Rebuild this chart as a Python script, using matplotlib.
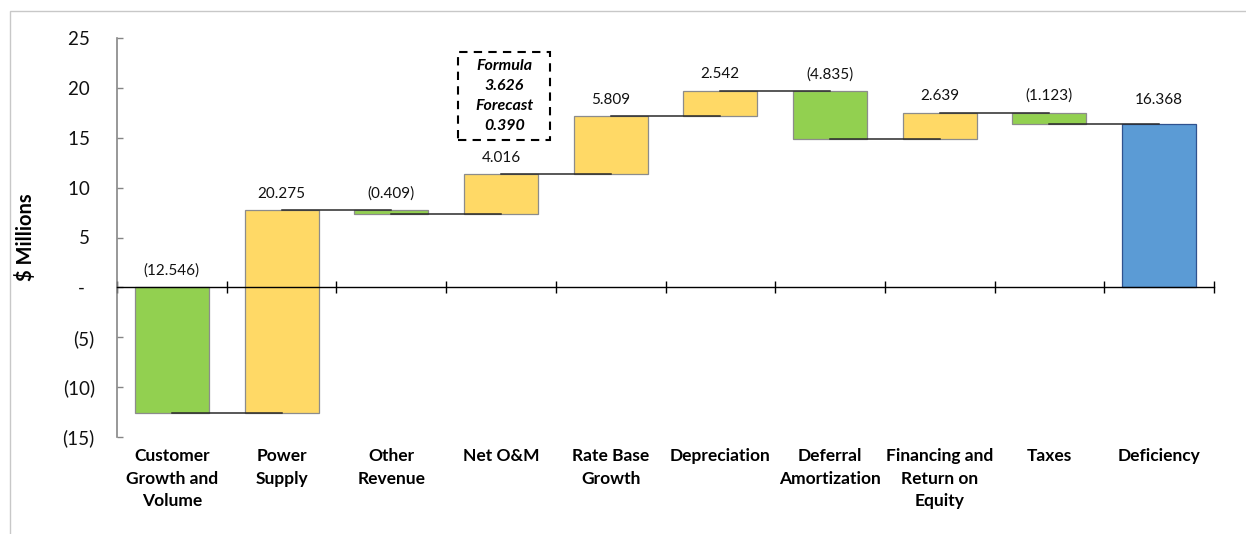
# waterfall: revenue deficiency bridge ($ Millions)
import numpy as np
import matplotlib.pyplot as plt
from matplotlib.patches import Rectangle

plt.rcParams['font.family'] = ['Lato', 'DejaVu Sans']

# data
categories = ["Customer\nGrowth and\nVolume", "Power\nSupply", "Other\nRevenue", "Net O&M",
              "Rate Base\nGrowth", "Depreciation", "Deferral\nAmortization",
              "Financing and\nReturn on\nEquity", "Taxes", "Deficiency"]
changes = [-12.546, 20.275, -0.409, 4.016, 5.809, 2.542, -4.835, 2.639, -1.123]
total = 16.368
y_ticks = [25, 20, 15, 10, 5, 0, -5, -10, -15]
y_tick_labels = ["25 ", "20 ", "15 ", "10 ", "5 ", "-  ", "(5)", "(10)", "(15)"]
note_lines = ["Formula", "3.626", "Forecast", "0.390"]

GREEN = "#92D050"
YELLOW = "#FFD966"
BLUE = "#5B9BD5"

ends = np.cumsum(changes)
starts = np.concatenate([[0], ends[:-1]])

fig = plt.figure(figsize=(12.46, 5.34), dpi=100)
ax = fig.add_axes([117 / 1246, 1 - 437 / 534, 1097 / 1246, 399 / 534])

# outer chart frame (only top and left visible in the crop)
fig.add_artist(Rectangle((10 / 1246, -0.2), 1.2, 1.2 - 11 / 534,
                         transform=fig.transFigure, fill=False,
                         ec="#c8c8c8", lw=1.0))

x = np.arange(len(categories))
width = 0.675

# step bars
for i, (s, e) in enumerate(zip(starts, ends)):
    col = GREEN if e < s else YELLOW
    ax.bar(x[i], e - s, bottom=s, width=width, color=col,
           edgecolor="#8c8c8c", linewidth=0.9, zorder=2)
# total bar
ax.bar(x[-1], total, width=width, color=BLUE, edgecolor="#2F528F",
       linewidth=0.9, zorder=2)

# connectors: centre of one bar to centre of the next
for i, lv in enumerate(ends):
    ax.plot([x[i], x[i + 1]], [lv, lv], color="#2a2a2a", lw=1.1, zorder=3)

# value labels
for i, (s, e, v) in enumerate(zip(starts, ends, changes)):
    txt = f"({abs(v):.3f})" if v < 0 else f"{v:.3f}"
    ax.annotate(txt, (x[i], max(s, e)), xytext=(0, 7), textcoords="offset points",
                ha="center", va="bottom", fontsize=11, color="#111111")
ax.annotate(f"{total:.3f}", (x[-1], total), xytext=(0, 12), textcoords="offset points",
            ha="center", va="bottom", fontsize=11, color="#111111")

# dashed note box
ax.add_patch(Rectangle((2.61, 14.8), 0.84, 8.8, fill=True, fc="white", ec="black",
                       ls=(0, (4, 3)), lw=1.5, zorder=5))
ax.text(3.03, 19.2, "\n".join(note_lines), ha="center", va="center",
        fontsize=11.5, fontweight="bold", fontstyle="italic", linespacing=1.55,
        zorder=6)

ax.set_xlim(-0.5, len(categories) - 0.5)
ax.set_ylim(-15, 25)

# y axis
ax.set_yticks(y_ticks)
ax.set_yticklabels(y_tick_labels)
ax.tick_params(axis="y", direction="in", length=4.5, width=1, color="#868686",
               pad=16, labelsize=13.5, labelcolor="#111111")
ax.spines["left"].set_color("#868686")
ax.spines["left"].set_linewidth(1.2)
ax.set_ylabel("$ Millions", fontsize=14.5, fontweight="bold")
ax.yaxis.set_label_coords(-0.074, 0.5)

# x axis at zero with boundary ticks
ax.spines["bottom"].set_position(("data", 0))
ax.spines["bottom"].set_color("black")
ax.spines["bottom"].set_linewidth(1)
ax.set_xticks(np.arange(-0.5, len(categories)))
ax.set_xticklabels([])
ax.tick_params(axis="x", direction="inout", length=9, width=1, color="black")
ax.spines["top"].set_visible(False)
ax.spines["right"].set_visible(False)

for i, cat in enumerate(categories):
    ax.text(x[i], -0.028, cat, transform=ax.get_xaxis_transform(), ha="center",
            va="top", fontsize=12.5, fontweight="bold", linespacing=1.5)

fig.savefig("out.png", dpi=100)
